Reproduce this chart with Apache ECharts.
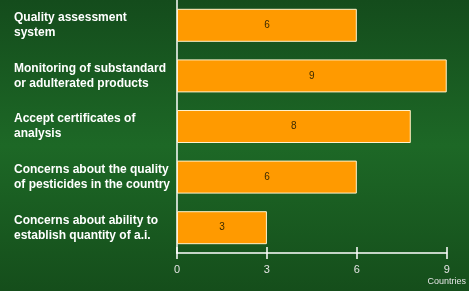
<!DOCTYPE html>
<html>
<head>
<meta charset="utf-8">
<script src="https://cdn.jsdelivr.net/npm/echarts@6/dist/echarts.min.js"></script>
<style>
  html, body { margin: 0; padding: 0; }
  #chart { width: 469px; height: 291px; }
</style>
</head>
<body>
<div id="chart"></div>
<script>
// categories top to bottom
const categories = [
  'Quality assessment\nsystem',
  'Monitoring of substandard\nor adulterated products',
  'Accept certificates of\nanalysis',
  'Concerns about the quality\nof pesticides in the country',
  'Concerns about ability to\nestablish quantity of a.i.'
]
// bar lengths as drawn (the 8 bar is drawn a bit short in the original)
const countries = [6, 9, 7.8, 6, 3]
const barLabels = ['6', '9', '8', '6', '3']
const xTicks = [0, 3, 6, 9]

const chart = echarts.init(document.getElementById('chart'))

const option = {
  animation: false,
  backgroundColor: new echarts.graphic.LinearGradient(0, 0, 0, 1, [
    { offset: 0, color: '#144c1c' },
    { offset: 0.5, color: '#1d6826' },
    { offset: 1, color: '#154e1b' }
  ]),
  grid: { left: 177, right: 22, top: -1, bottom: 38 },
  xAxis: [{
    type: 'value',
    min: 0,
    max: 9,
    interval: 3,
    axisLine: { show: true, lineStyle: { color: '#ffffff', width: 1.5 } },
    axisTick: { show: true, inside: true, length: 6, lineStyle: { color: '#ffffff', width: 1.5 } },
    splitLine: { show: false },
    axisLabel: {
      color: '#e4e4e4',
      fontSize: 11,
      fontFamily: 'Liberation Sans, Arial, sans-serif',
      margin: 11,
      formatter: v => xTicks.includes(v) ? String(v) : ''
    },
    name: 'Countries',
    nameLocation: 'end',
    nameGap: 0,
    nameTextStyle: {
      color: '#e4e4e4',
      fontSize: 9,
      fontFamily: 'Liberation Sans, Arial, sans-serif',
      align: 'center',
      verticalAlign: 'top',
      padding: [24, 0, 0, 0]
    }
  }, {
    // second axis only for ticks that cross below the line
    type: 'value',
    position: 'bottom',
    min: 0,
    max: 9,
    interval: 3,
    axisLine: { show: false },
    axisTick: { show: true, inside: false, length: 6, lineStyle: { color: '#ffffff', width: 1.5 } },
    axisLabel: { show: false },
    splitLine: { show: false }
  }],
  yAxis: {
    type: 'category',
    inverse: true,
    data: categories,
    axisLine: { show: true, lineStyle: { color: '#ffffff', width: 1.5 } },
    axisTick: { show: false },
    axisLabel: {
      color: '#ffffff',
      fontWeight: 'bold',
      fontSize: 12,
      fontFamily: 'Liberation Sans, Arial, sans-serif',
      lineHeight: 15,
      align: 'left',
      margin: 163
    }
  },
  series: [{
    type: 'bar',
    data: countries,
    barWidth: 33,
    itemStyle: {
      color: '#ff9a00',
      borderColor: '#fff2cc',
      borderWidth: 1
    },
    label: {
      show: true,
      position: 'inside',
      color: '#3a2a00',
      fontSize: 10,
      fontFamily: 'Liberation Sans, Arial, sans-serif',
      formatter: p => barLabels[p.dataIndex]
    }
  }]
}

chart.setOption(option)
window.addEventListener('resize', () => {
  chart.resize()
})
</script>
</body>
</html>
